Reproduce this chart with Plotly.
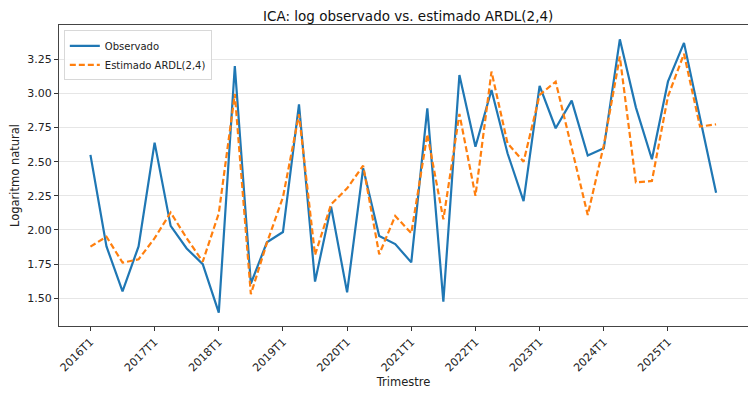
import plotly.graph_objects as go

years = list(range(2016, 2026))
quarters = [f"{y}T{q}" for y in years for q in range(1, 5)]
tick_labels = [f"{y}T1" for y in years]

observado = [2.55, 1.88, 1.55, 1.88, 2.64, 2.03, 1.865, 1.75, 1.395, 3.20,
             1.607, 1.91, 1.985, 2.92, 1.622, 2.171, 1.543, 2.452, 1.956, 1.897,
             1.763, 2.891, 1.475, 3.135, 2.61, 3.025, 2.562, 2.212, 3.055, 2.745,
             2.947, 2.545, 2.598, 3.396, 2.898, 2.518, 3.086, 3.37, 2.82, 2.273]
estimado = [1.878, 1.951, 1.761, 1.785, 1.94, 2.128, 1.94, 1.768, 2.122, 2.996,
            1.53, 1.905, 2.24, 2.847, 1.817, 2.188, 2.305, 2.471, 1.822, 2.103,
            1.976, 2.701, 2.078, 2.85, 2.25, 3.16, 2.635, 2.50, 2.989, 3.086,
            2.60, 2.11, 2.62, 3.27, 2.349, 2.359, 2.978, 3.29, 2.757, 2.774]
y_ticks = [1.50, 1.75, 2.00, 2.25, 2.50, 2.75, 3.00, 3.25]

FONT = "DejaVu Sans"

fig = go.Figure()
fig.add_trace(go.Scatter(x=quarters, y=observado, mode="lines", name="Observado",
                         line=dict(color="#1f77b4", width=2.2)))
fig.add_trace(go.Scatter(x=quarters, y=estimado, mode="lines", name="Estimado ARDL(2,4)",
                         line=dict(color="#ff7f0e", width=2.2, dash="6px,3px")))

# page body adds an 8px offset; size the figure so the plot area lands where the reference has it
fig.update_layout(
    width=748, height=391,
    margin=dict(l=51, r=8, t=17, b=73),
    paper_bgcolor="white", plot_bgcolor="white",
    font=dict(family=FONT, size=11, color="#222"),
    title=dict(text="ICA: log observado vs. estimado ARDL(2,4)", x=0.535, xanchor="center",
               y=0.978, yanchor="middle", pad=dict(t=0, b=0),
               font=dict(family=FONT, size=13.5, color="#111")),
    showlegend=True,
    legend=dict(x=0.007, y=0.982, xanchor="left", yanchor="top",
                bgcolor="rgba(255,255,255,0.85)", bordercolor="#d8d8d8", borderwidth=1,
                font=dict(family=FONT, size=10, color="#222"),
                tracegroupgap=0, itemwidth=30),
)

fig.update_xaxes(
    type="category", categoryorder="array", categoryarray=quarters,
    range=[-1.96, 40.99], automargin=False,
    tickvals=tick_labels, ticktext=tick_labels, tickangle=-45,
    ticks="outside", ticklen=4, tickcolor="#333",
    showgrid=False, zeroline=False,
    showline=True, linecolor="#444", linewidth=1.2, mirror=True,
    tickfont=dict(family=FONT, size=11, color="#222"),
    title=dict(text="Trimestre", font=dict(family=FONT, size=11.5, color="#222"), standoff=4),
)
fig.update_yaxes(
    range=[1.297, 3.501], automargin=False,
    tickvals=y_ticks, tickformat=".2f",
    ticks="outside", ticklen=4, tickcolor="#333",
    showgrid=True, gridcolor="#e6e6e6", gridwidth=1, zeroline=False,
    showline=True, linecolor="#444", linewidth=1.2, mirror=True,
    tickfont=dict(family=FONT, size=11, color="#222"),
    title=dict(text="Logaritmo natural", font=dict(family=FONT, size=11.5, color="#222"), standoff=6),
)

fig.write_html("out.html")
